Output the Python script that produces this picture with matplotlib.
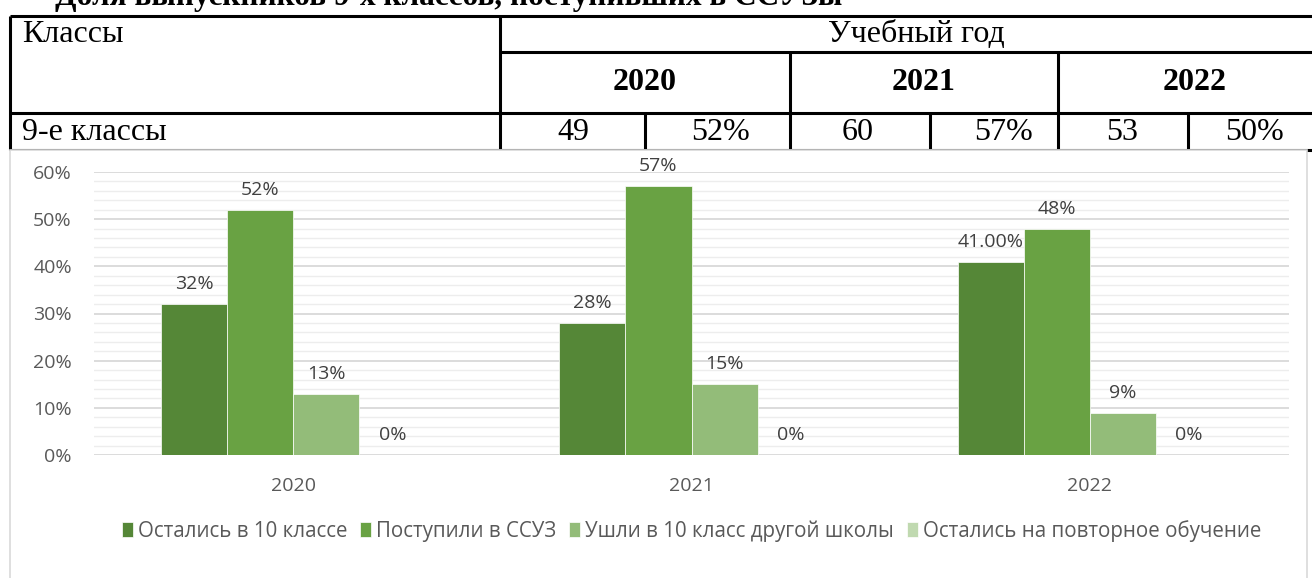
import numpy as np
import matplotlib.pyplot as plt
from matplotlib.patches import Rectangle
from matplotlib.ticker import MultipleLocator

W, H = 1312, 578

years = ['2020', '2021', '2022']
series_names = ['Остались в 10 классе', 'Поступили в ССУЗ',
                'Ушли в 10 класс другой школы', 'Остались на повторное обучение']
stayed = [32, 28, 41]
entered = [52, 57, 48]
moved = [13, 15, 9]
repeat = [0, 0, 0]
labels = [['32%', '28%', '41.00%'], ['52%', '57%', '48%'],
          ['13%', '15%', '9%'], ['0%', '0%', '0%']]
table_counts = ['49', '60', '53']
table_shares = ['52%', '57%', '50%']
colors = ['#558737', '#69A243', '#93BC79', '#C0D9B0']

fig = plt.figure(figsize=(W / 100, H / 100), dpi=100)

# background layer in pixel coordinates for the table
bg = fig.add_axes([0, 0, 1, 1])
bg.set_xlim(0, W)
bg.set_ylim(H, 0)
bg.axis('off')

serif = 'Liberation Serif'
fs = 23
bg.text(55, 5, 'Доля выпускников 9-х классов, поступивших в ССУЗы',
        family=serif, fontsize=22.5, fontweight='bold', va='baseline', ha='left')

lw = 2.2
hlines = [(16, 10, W), (52, 500, W), (113, 10, W), (150, 10, W)]
for y, x0, x1 in hlines:
    bg.plot([x0, x1], [y, y], color='black', lw=lw, solid_capstyle='butt')
vlines = [(10, 16, 150), (500, 16, 150), (790, 52, 150), (1058, 52, 150),
          (645, 113, 150), (930, 113, 150), (1188, 113, 150)]
for x, y0, y1 in vlines:
    bg.plot([x, x], [y0, y1], color='black', lw=lw, solid_capstyle='butt')

bg.text(22, 34, 'Классы', family=serif, fontsize=fs, va='center')
bg.text(916, 34, 'Учебный год', family=serif, fontsize=fs, va='center', ha='center')
for x, yr in zip([645, 924, 1195], years):
    bg.text(x, 82, yr, family=serif, fontsize=fs, fontweight='bold',
            va='center', ha='center')
bg.text(22, 133, '9-е классы', family=serif, fontsize=fs, va='center')
for x, t in zip([573, 858, 1122], table_counts):
    bg.text(x, 133, t, family=serif, fontsize=fs, va='center', ha='center')
for x, t in zip([750, 1033, 1284], table_shares):
    bg.text(x, 133, t, family=serif, fontsize=fs, va='center', ha='right')

# chart frame
bg.add_patch(Rectangle((10, 150), 1297, 440, facecolor='white',
                       edgecolor='#D9D9D9', lw=1.2, zorder=5))

# chart
ax = fig.add_axes([94 / W, 1 - 455 / H, (1289 - 94) / W, (455 - 172) / H])
ax.set_zorder(10)
ax.patch.set_alpha(0)

cfs = 14
x = np.arange(len(years))
bw = 0.166
data = [stayed, entered, moved, repeat]
for i, (vals, c, name) in enumerate(zip(data, colors, series_names)):
    pos = x + (i - 1.5) * bw
    ax.bar(pos, vals, bw, color=c, edgecolor='white', linewidth=0.5,
           label=name, zorder=3)
    for p, v, lab in zip(pos, vals, labels[i]):
        ax.text(p, v + 2.3, lab, ha='center', va='bottom', fontsize=cfs,
                color='#404040', family='Open Sans')

ax.set_xlim(-0.5, 2.5)
ax.set_ylim(0, 60)
ax.yaxis.set_major_locator(MultipleLocator(10))
ax.yaxis.set_minor_locator(MultipleLocator(2))
ax.set_yticks(range(0, 61, 10))
ax.set_yticklabels([f'{v}%' for v in range(0, 61, 10)], family='Open Sans',
                   fontsize=cfs, color='#595959')
ax.set_xticks(x)
ax.set_xticklabels(years, family='Open Sans', fontsize=cfs, color='#595959')
ax.tick_params(axis='both', length=0, which='both')
ax.tick_params(axis='y', pad=16)
ax.tick_params(axis='x', pad=16)
ax.grid(axis='y', which='major', color='#D9D9D9', lw=1.3, zorder=0)
ax.grid(axis='y', which='minor', color='#EDEDED', lw=1.0, zorder=0)
for s in ax.spines.values():
    s.set_visible(False)

leg = ax.legend(loc='center', bbox_to_anchor=(0.5, (455 - 531) / (455 - 172)),
                ncol=4, frameon=False, handlelength=0.55, handleheight=0.75,
                handletextpad=0.25, columnspacing=0.6,
                prop={'family': 'Open Sans', 'size': 14.8})
for t in leg.get_texts():
    t.set_color('#595959')

fig.savefig('out.png', dpi=100)
